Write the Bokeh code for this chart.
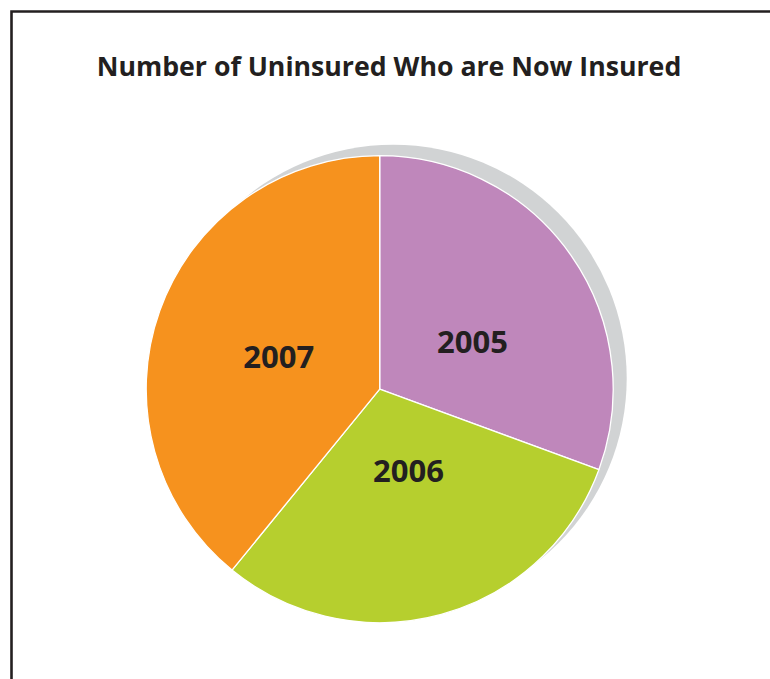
import math
from bokeh.plotting import figure
from bokeh.models import Range1d, Label, ColumnDataSource
from bokeh.core.properties import value
from bokeh.embed import file_html
from bokeh.resources import INLINE

# ---- data ----
title_text = "Number of Uninsured Who are Now Insured"
years = ["2005", "2006", "2007"]
shares = [30.6, 30.3, 39.1]
colors = ["#bf87bb", "#b6cf2e", "#f6921e"]

# ---- layout (pixel-like coordinates, y up: data y = 679 - pixel y) ----
W, H = 770, 679
cx, cy = 379.2, 679 - 388.7
R = 233.5
shadow_dx, shadow_dy = 13.5, 11.0
label_r = [104, 87, 106]
label_nudge_deg = [-8, 4, 2]
font = "Open Sans"
ink = "#231f20"

p = figure(width=W, height=H, output_backend="svg", toolbar_location=None,
           x_range=Range1d(0, W), y_range=Range1d(679 - H, 679),
           min_border=0, outline_line_color=None)
p.axis.visible = False
p.grid.visible = False
p.background_fill_color = "white"
p.border_fill_color = "white"

# frame (left and top edges)
p.line(x=[11, 11, W + 20], y=[-20, 679 - 11, 679 - 11], line_color=ink,
       line_width=2.6, line_join="miter")

# shadow
p.circle(x=[cx + shadow_dx], y=[cy + shadow_dy], radius=R,
         fill_color="#d1d3d4", line_color=None)

# wedges
total = sum(shares)
starts, ends, mids = [], [], []
cum = 0.0
for s in shares:
    a0 = math.pi / 2 - cum / total * 2 * math.pi
    cum += s
    a1 = math.pi / 2 - cum / total * 2 * math.pi
    starts.append(a0)
    ends.append(a1)
    mids.append((a0 + a1) / 2)

src = ColumnDataSource(dict(x=[cx] * 3, y=[cy] * 3, start=starts, end=ends,
                            color=colors, year=years))
p.wedge(x="x", y="y", radius=R, start_angle="start", end_angle="end",
        direction="clock", fill_color="color", line_color="white",
        line_width=1.3, source=src)

lx = [cx + r * math.cos(m + math.radians(n)) for r, m, n in zip(label_r, mids, label_nudge_deg)]
ly = [cy + r * math.sin(m + math.radians(n)) for r, m, n in zip(label_r, mids, label_nudge_deg)]
p.text(x=lx, y=ly, text=years, text_font=value(font), text_font_style="bold",
       text_font_size="31px", text_color=ink, text_align="center",
       text_baseline="middle")

p.add_layout(Label(x=388.5, y=679 - 64.5, text=title_text, text_font=font,
                   text_font_style="bold", text_font_size="26.7px",
                   text_color=ink, text_align="center",
                   text_baseline="middle"))

open("out.html", "w").write(file_html(p, INLINE))
